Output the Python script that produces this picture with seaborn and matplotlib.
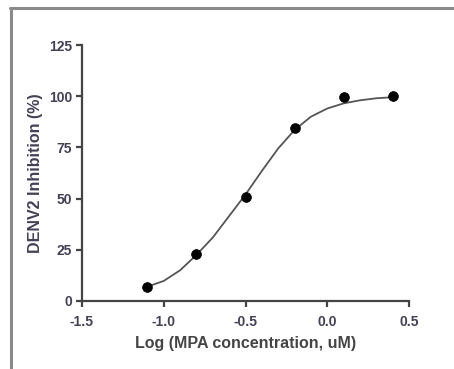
import numpy as np
import pandas as pd
import matplotlib
matplotlib.use("Agg")
import matplotlib.pyplot as plt
from matplotlib.lines import Line2D
import seaborn as sns

# measured points (log uM, % inhibition)
log_conc = [-1.1, -0.8, -0.5, -0.2, 0.1, 0.4]
inhibition = [7.0, 22.8, 50.9, 84.3, 99.8, 100.3]

# fitted curve
curve_x = [-1.1, -1.0, -0.9, -0.8, -0.7, -0.6, -0.5, -0.4, -0.3, -0.2,
           -0.1, 0.0, 0.1, 0.2, 0.3, 0.4]
curve_y = [7.0, 9.8, 15.0, 22.5, 31.0, 41.5, 52.0, 63.5, 74.5, 83.5,
           90.0, 94.0, 96.5, 98.0, 99.0, 99.5]

x_ticks = [-1.5, -1.0, -0.5, 0.0, 0.5]
y_ticks = [0, 25, 50, 75, 100, 125]

sns.set_style("ticks")
plt.rcParams['font.family'] = ['Liberation Sans', 'DejaVu Sans']

fig = plt.figure(figsize=(4.54, 3.69), dpi=100)
ax = fig.add_axes([0.1806, 0.1843, 0.7203, 0.6937])

curve = pd.DataFrame({"x": curve_x, "y": curve_y})
pts = pd.DataFrame({"x": log_conc, "y": inhibition})
sns.lineplot(data=curve, x="x", y="y", ax=ax, color="#555555", linewidth=1.3, sort=False)
sns.scatterplot(data=pts, x="x", y="y", ax=ax, color="black", s=50, edgecolor="black",
                linewidth=0.5, zorder=3, clip_on=False)

ax.set_xlim(-1.5, 0.5)
ax.set_ylim(0, 125)
ax.set_xticks(x_ticks)
ax.set_xticklabels([f"{t:.1f}" for t in x_ticks])
ax.set_yticks(y_ticks)
ax.set_yticklabels([str(t) for t in y_ticks])

sns.despine(ax=ax)
for s in ["left", "bottom"]:
    ax.spines[s].set_color("#444444")
    ax.spines[s].set_linewidth(1.6)
ax.tick_params(axis="both", direction="out", length=4, width=1.6, color="#444444",
               labelsize=10, labelcolor="#454055")
ax.tick_params(axis="x", pad=6)
ax.tick_params(axis="y", pad=3)
for lab in ax.get_xticklabels() + ax.get_yticklabels():
    lab.set_fontweight("bold")

ax.set_xlabel("Log (MPA concentration, uM)", fontsize=11.5, fontweight="bold",
              color="#454545", labelpad=5)
ax.set_ylabel("DENV2 Inhibition (%)", fontsize=11.5, fontweight="bold",
              color="#454055", labelpad=4)

# partial frame around the figure (top and left edges only)
fig.add_artist(Line2D([10 / 454, 1.0], [1 - 8 / 369, 1 - 8 / 369], transform=fig.transFigure,
                      color="#8a8a8a", linewidth=2.2))
fig.add_artist(Line2D([11 / 454, 11 / 454], [1 - 8 / 369, 0.0], transform=fig.transFigure,
                      color="#8a8a8a", linewidth=2.2))

fig.savefig("out.png", dpi=100)
